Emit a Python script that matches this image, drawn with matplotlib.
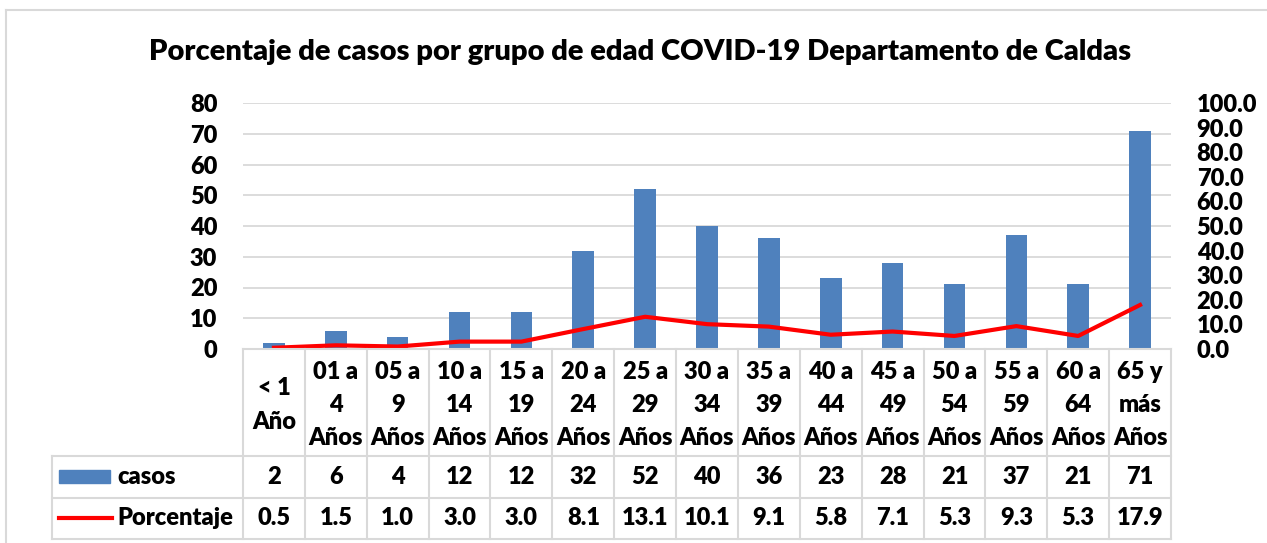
import matplotlib.pyplot as plt
from matplotlib.lines import Line2D
from matplotlib.patches import Rectangle

# data
grupos = ["< 1\nAño", "01 a\n4\nAños", "05 a\n9\nAños", "10 a\n14\nAños", "15 a\n19\nAños",
          "20 a\n24\nAños", "25 a\n29\nAños", "30 a\n34\nAños", "35 a\n39\nAños", "40 a\n44\nAños",
          "45 a\n49\nAños", "50 a\n54\nAños", "55 a\n59\nAños", "60 a\n64\nAños", "65 y\nmás\nAños"]
casos = [2, 6, 4, 12, 12, 32, 52, 40, 36, 23, 28, 21, 37, 21, 71]
porcentaje = [0.5, 1.5, 1.0, 3.0, 3.0, 8.1, 13.1, 10.1, 9.1, 5.8, 7.1, 5.3, 9.3, 5.3, 17.9]

W, H = 1267, 543
plt.rcParams['font.family'] = ['Lato', 'DejaVu Sans']
plt.rcParams['font.weight'] = 'heavy'
BLUE = "#4F81BD"
GRID = "#D9D9D9"
FS = 17

fig = plt.figure(figsize=(W / 100, H / 100), dpi=100)

# chart frame (top and left edges visible)
fig.add_artist(Line2D([6 / W, 6 / W], [0, 1 - 10 / H], color=GRID, lw=1.5))
fig.add_artist(Line2D([6 / W, 1], [1 - 10 / H, 1 - 10 / H], color=GRID, lw=1.5))

fig.text(640 / W, 1 - 52 / H, "Porcentaje de casos por grupo de edad COVID-19 Departamento de Caldas",
         ha="center", va="center", fontsize=21)

# plot area
L, R, T, B = 243, 1171, 103, 349
ax = fig.add_axes([L / W, 1 - B / H, (R - L) / W, (B - T) / H])
x = list(range(len(casos)))
ax.bar(x, casos, width=0.35, color=BLUE, zorder=2)
ax.set_xlim(-0.5, len(casos) - 0.5)
ax.set_ylim(0, 80)
ax.set_yticks(range(0, 81, 10))
ax.yaxis.grid(True, color=GRID, lw=1.3, zorder=0)
ax.set_xticks([])
ax.tick_params(axis="y", length=0, pad=18.5, labelsize=FS)
for s in ax.spines.values():
    s.set_visible(False)

ax2 = ax.twinx()
ax2.plot(x, porcentaje, color="red", lw=3, zorder=3)
ax2.set_ylim(0, 100)
ax2.set_yticks(range(0, 101, 10))
ax2.set_yticklabels([f"{v:.1f}" for v in range(0, 101, 10)])
ax2.tick_params(axis="y", length=0, pad=18.5, labelsize=FS)
for s in ax2.spines.values():
    s.set_visible(False)

# data table below the plot, in pixel rows
unit = (R - L) / len(casos)
def px2x(px):
    return -0.5 + (px - L) / unit

TL = 52
tab = fig.add_axes([TL / W, 1 - 539 / H, (R - TL) / W, (539 - B) / H])
tab.set_xlim(px2x(TL), len(casos) - 0.5)
tab.set_ylim(539, B)
tab.axis("off")

lc = dict(color=GRID, lw=1.5, clip_on=False)
n = len(casos)
tab.plot([-0.5, n - 0.5], [B, B], **lc)
for yy in (456, 498, 539):
    tab.plot([px2x(TL), n - 0.5], [yy, yy], **lc)
tab.plot([px2x(TL), px2x(TL)], [456, 539], **lc)
for k in range(n + 1):
    tab.plot([k - 0.5, k - 0.5], [B, 539], **lc)

for i in range(n):
    tab.text(i, 405, grupos[i], ha="center", va="center", fontsize=FS, linespacing=1.63)
    tab.text(i, 477, str(casos[i]), ha="center", va="center", fontsize=FS)
    tab.text(i, 518, f"{porcentaje[i]:.1f}", ha="center", va="center", fontsize=FS)

tab.add_patch(Rectangle((px2x(59), 470), px2x(110) - px2x(59), 13, color=BLUE, clip_on=False))
tab.plot([px2x(59), px2x(112)], [518, 518], color="red", lw=3, clip_on=False)
tab.text(px2x(117), 477, "casos", ha="left", va="center", fontsize=FS)
tab.text(px2x(117), 518, "Porcentaje", ha="left", va="center", fontsize=FS)

fig.savefig("out.png", dpi=100)
